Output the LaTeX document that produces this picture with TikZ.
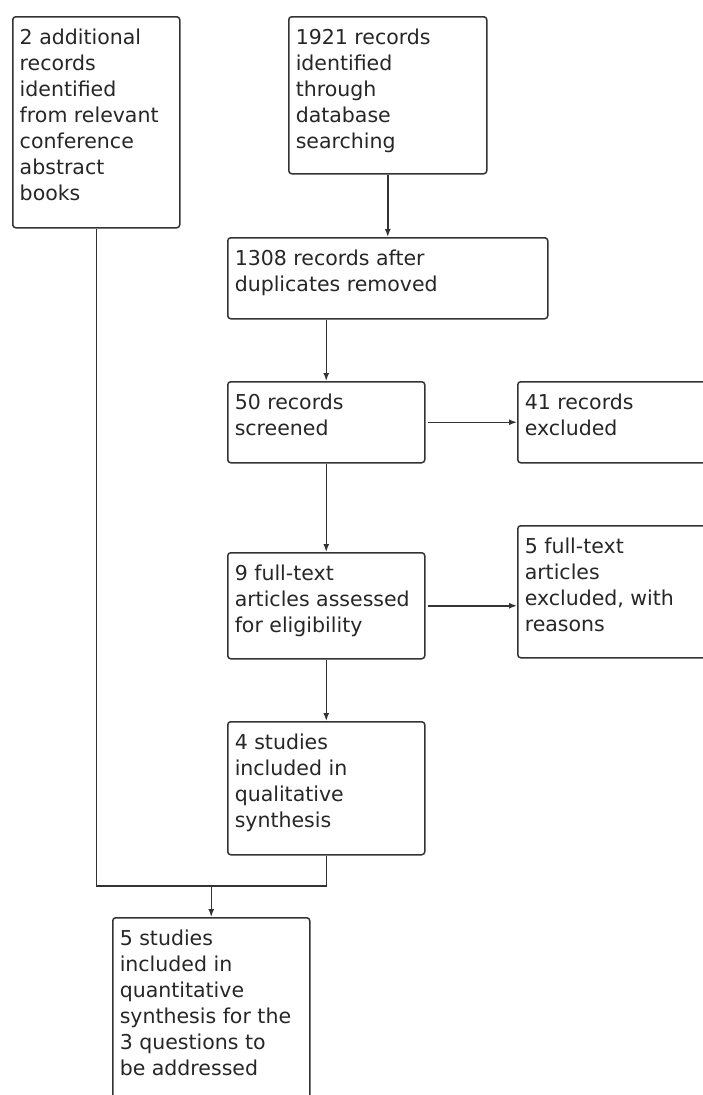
\documentclass[tikz,border=0pt]{standalone}
\usepackage{fontspec}
\setmainfont{DejaVu Sans}
\usetikzlibrary{arrows.meta, positioning}

% top-aligned text block of a given width and height
\newcommand{\flowtext}[3]{\parbox[t][#2][t]{#1}{\raggedright\rule{0pt}{28pt}#3}}

\begin{document}
\begin{tikzpicture}[
      x=1pt, y=-1pt,
      box/.style={draw=black!80, line width=1.5pt, rounded corners=3pt, anchor=north west, inner xsep=7pt, inner ysep=0pt, font=\fontsize{20.5}{26}\selectfont, text=black!85},
      link/.style={draw=black!80, line width=1.5pt},
      arrow/.style={link, -{Latex[length=8pt, width=6pt]}}
    ]

      \useasboundingbox (0,0) rectangle (702,1095);

      % sources
      \node[box] (extra) at (12,16) {\flowtext{153pt}{211pt}{2 additional\\ records\\ identified\\ from relevant\\ conference\\ abstract\\ books}};
      \node[box] (search) at (288,16) {\flowtext{184pt}{157pt}{1921 records\\ identified\\ through\\ database\\ searching}};

      % main column
      \node[box] (dedup) at (227,237) {\flowtext{306pt}{81pt}{1308 records after\\ duplicates removed}};
      \node[box] (screen) at (227,381) {\flowtext{183pt}{81pt}{50 records\\ screened}};
      \node[box] (elig) at (227,552) {\flowtext{183pt}{106pt}{9 full-text\\ articles assessed\\ for eligibility}};
      \node[box] (qual) at (227,721) {\flowtext{183pt}{133pt}{4 studies\\ included in\\ qualitative\\ synthesis}};
      \node[box] (quant) at (112,917) {\flowtext{183pt}{200pt}{5 studies\\ included in\\ quantitative\\ synthesis for the\\ 3 questions to\\ be addressed}};

      % exclusions on the right
      \node[box] (screen_out) at (517,381) {\flowtext{216pt}{81pt}{41 records\\ excluded}};
      \node[box] (elig_out) at (517,525) {\flowtext{216pt}{132pt}{5 full-text\\ articles\\ excluded, with\\ reasons}};

      % Arrows
      \draw[arrow] (search.south) -- (dedup.north);
      \draw[arrow] (screen.north |- dedup.south) -- (screen.north);
      \draw[arrow] ([xshift=2pt]screen.east) -- (screen_out.west);
      \draw[arrow] (screen.south) -- (elig.north);
      \draw[arrow] ([xshift=2pt]elig.east) -- (elig.east -| elig_out.west);
      \draw[arrow] (elig.south) -- (qual.north);

      % merge of both branches
      \coordinate (join) at ([yshift=31pt]quant.north);
      \draw[link] (extra.south) |- (join) -| (qual.south);
      \draw[arrow] (join) -- (quant.north);

    \end{tikzpicture}
\end{document}
